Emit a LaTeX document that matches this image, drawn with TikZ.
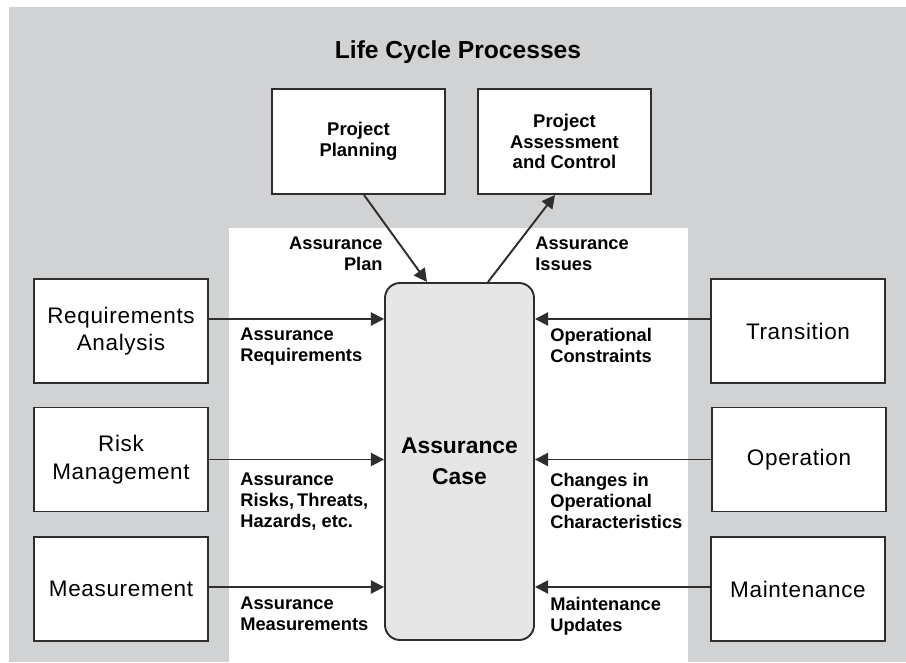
\documentclass[tikz,border=0pt]{standalone}
\usepackage{fontspec}
\setmainfont{Liberation Sans}
\newfontfamily\boxfont[LetterSpace=3]{Liberation Sans}
\usetikzlibrary{arrows.meta,positioning}
\definecolor{bggray}{HTML}{D1D2D4}
\definecolor{casegray}{HTML}{E6E6E6}
\definecolor{edge}{HTML}{2E2E2E}

\begin{document}
\begin{tikzpicture}[
    proc/.style={draw=edge, line width=1.1pt, fill=white, minimum width=3.48cm, minimum height=2.08cm, align=center, font=\boxfont\fontsize{12.8}{15.7}\selectfont},
    topproc/.style={draw=edge, line width=1.1pt, fill=white, minimum width=3.46cm, minimum height=2.1cm, align=center, font=\bfseries\fontsize{10.5}{11.8}\selectfont},
    lbl/.style={inner sep=0pt, font=\bfseries\fontsize{10.4}{11.8}\selectfont},
    flow/.style={-{Triangle[length=7.5pt,width=7.5pt]}, line width=1.1pt, draw=edge}
]
    \useasboundingbox (0,0) rectangle (18.12,13.24);
    \fill[bggray] (0.18,0) rectangle (18.12,13.1);
    \fill[white] (4.58,0) rectangle (13.76,8.68);

    \node[anchor=base, font=\bfseries\fontsize{14}{16}\selectfont] (title) at (9.16,12.06) {Life Cycle Processes};

    \node[topproc] (plan) at (7.17,10.41) {Project\\Planning};
    \node[topproc] (ctrl) at (11.29,10.41) {Project\\Assessment\\and Control};

    \node[draw=edge, line width=1.1pt, fill=casegray, rounded corners=0.3cm, minimum width=2.98cm, minimum height=7.14cm, align=center, font=\bfseries\fontsize{13}{17.5}\selectfont] (case) at (9.19,4.01) {Assurance\\Case};

    \node[proc] (req) at (2.42,6.62) {Requirements\\Analysis};
    \node[proc] (risk) at (2.42,4.05) {Risk\\Management};
    \node[proc] (meas) at (2.42,1.46) {Measurement};
    \node[proc] (trans) at (15.96,6.62) {Transition};
    \node[proc] (oper) at (15.98,4.05) {Operation};
    \node[proc] (maint) at (15.96,1.46) {Maintenance};

    \draw[flow] ([xshift=1.1mm]plan.south) -- ([xshift=-6.5mm]case.north);
    \draw[flow] ([xshift=5.7mm]case.north) -- ([xshift=-1.9mm]ctrl.south);

    \coordinate (l1) at ([yshift=2.4mm]req.east);
    \coordinate (l2) at (risk.east);
    \coordinate (l3) at ([yshift=0.4mm]meas.east);
    \coordinate (r1) at ([yshift=2.4mm]trans.west);
    \coordinate (r2) at (oper.west);
    \coordinate (r3) at ([yshift=0.4mm]maint.west);
    \draw[flow] (l1) -- (l1 -| case.west);
    \draw[flow] (l2) -- (l2 -| case.west);
    \draw[flow] (l3) -- (l3 -| case.west);
    \draw[flow] (r1) -- (r1 -| case.east);
    \draw[flow] (r2) -- (r2 -| case.east);
    \draw[flow] (r3) -- (r3 -| case.east);

    \node[lbl, anchor=north east, align=right] (lplan) at (7.66,8.5) {Assurance\\Plan};
    \node[lbl, anchor=north west, align=left] (lissue) at (10.7,8.5) {Assurance\\Issues};
    \node[lbl, anchor=north west, align=left] (lreq) at (4.8,6.68) {Assurance\\Requirements};
    \node[lbl, anchor=north west, align=left] (lrisk) at (4.8,3.78) {Assurance\\Risks,\,Threats,\\Hazards, etc.};
    \node[lbl, anchor=north west, align=left] (lmeas) at (4.8,1.3) {Assurance\\Measurements};
    \node[lbl, anchor=north west, align=left] (lcons) at (11.0,6.68) {Operational\\Constraints};
    \node[lbl, anchor=north west, align=left] (lchg) at (11.0,3.78) {Changes in\\Operational\\Characteristics};
    \node[lbl, anchor=north west, align=left] (lupd) at (11.0,1.3) {Maintenance\\Updates};
\end{tikzpicture}
\end{document}
